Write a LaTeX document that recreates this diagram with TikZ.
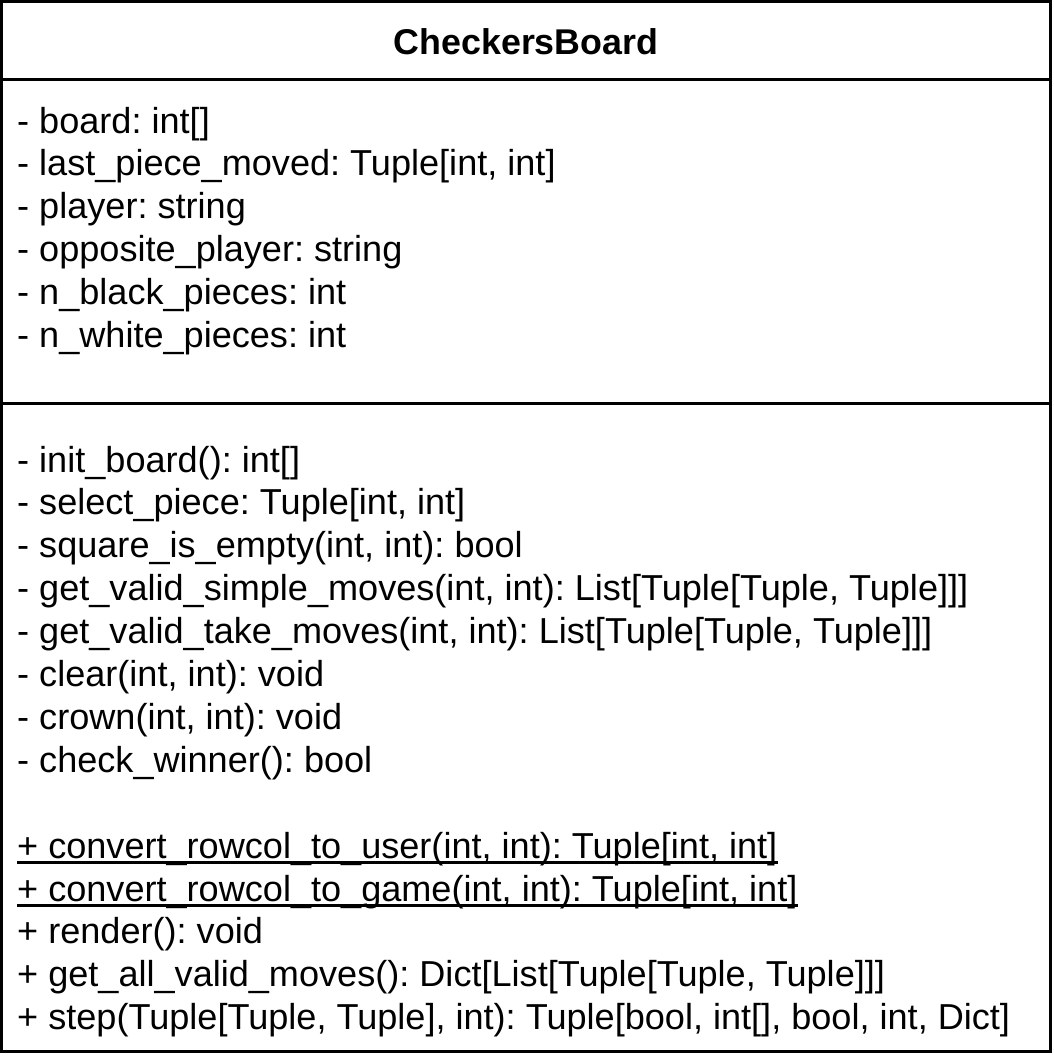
\documentclass[tikz,border=0pt]{standalone}
\usepackage{fontspec}
\setmainfont{Liberation Sans}
\frenchspacing

\tikzset{
  member/.style={anchor=base west, inner sep=0pt, font=\fontsize{36.1}{42}\selectfont},
  classname/.style={anchor=base, inner sep=0pt, font=\fontsize{35.8}{42}\selectfont\bfseries},
  boxline/.style={line width=3pt, black},
}

\begin{document}
\begin{tikzpicture}[x=1pt,y=1pt]
  \useasboundingbox (0,0) rectangle (1053,-1062);

  % Draw the class box and its separators
  \draw[boxline] (1.5,-1.5) rectangle (1050.5,-1051);
  \draw[boxline] (1.5,-79.2) -- (1050.5,-79.2);
  \draw[boxline] (1.5,-403.5) -- (1050.5,-403.5);

  % Class name
  \node[classname] (title) at (526,-55) {CheckersBoard};

  % Attributes
  \node[member] (a1) at (17,-133) {- board: int[]};
  \node[member] (a2) at (17,-175.8) {- last\_piece\_moved: Tuple[int, int]};
  \node[member] (a3) at (17,-218.6) {- player: string};
  \node[member] (a4) at (17,-261.4) {- opposite\_player: string};
  \node[member] (a5) at (17,-304.2) {- n\_black\_pieces: int};
  \node[member] (a6) at (17,-347) {- n\_white\_pieces: int};

  % Private methods
  \node[member] (m1) at (17,-472) {- init\_board(): int[]};
  \node[member] (m2) at (17,-514.9) {- select\_piece: Tuple[int, int]};
  \node[member] (m3) at (17,-557.8) {- square\_is\_empty(int, int): bool};
  \node[member] (m4) at (17,-600.7) {- get\_valid\_simple\_moves(int, int): List[Tuple[Tuple, Tuple]]]};
  \node[member] (m5) at (17,-643.6) {- get\_valid\_take\_moves(int, int): List[Tuple[Tuple, Tuple]]]};
  \node[member] (m6) at (17,-686.5) {- clear(int, int): void};
  \node[member] (m7) at (17,-729.4) {- crown(int, int): void};
  \node[member] (m8) at (17,-772.3) {- check\_winner(): bool};

  % Public methods (static ones underlined)
  \node[member] (m9) at (17,-858.1) {+ convert\_rowcol\_to\_user(int, int): Tuple[int, int]};
  \node[member] (m10) at (17,-901) {+ convert\_rowcol\_to\_game(int, int): Tuple[int, int]};
  \node[member] (m11) at (17,-943.9) {+ render(): void};
  \node[member] (m12) at (17,-986.8) {+ get\_all\_valid\_moves(): Dict[List[Tuple[Tuple, Tuple]]]};
  \node[member] (m13) at (17,-1029.7) {+ step(Tuple[Tuple, Tuple], int): Tuple[bool, int[], bool, int, Dict]};

  \draw[line width=2.4pt] ([yshift=-4.5pt]m9.base west) -- ([yshift=-4.5pt]m9.base east);
  \draw[line width=2.4pt] ([yshift=-4.5pt]m10.base west) -- ([yshift=-4.5pt]m10.base east);
\end{tikzpicture}
\end{document}
